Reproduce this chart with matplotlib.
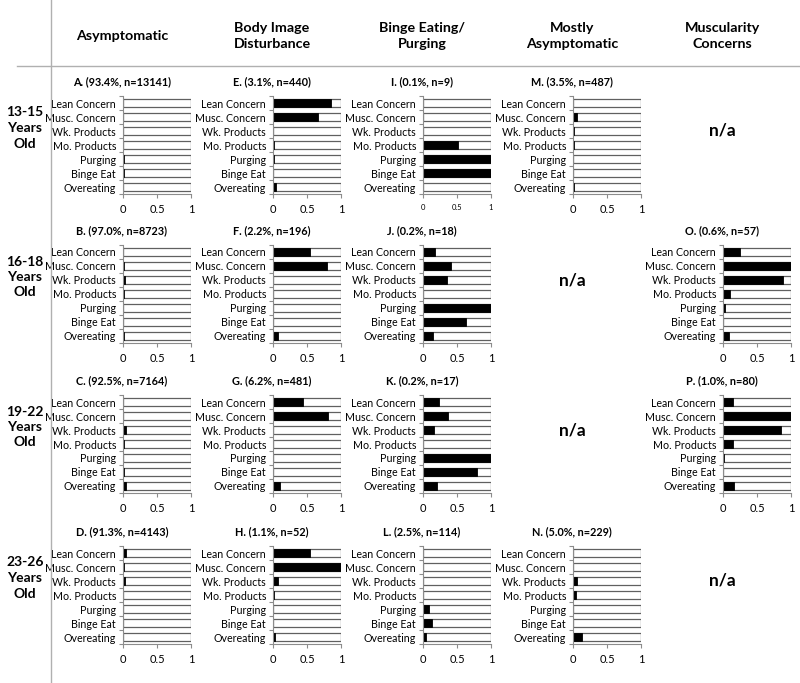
import matplotlib

matplotlib.use("Agg")
import matplotlib.pyplot as plt
from matplotlib.lines import Line2D

plt.rcParams["font.family"] = ["Lato", "DejaVu Sans"]

CATEGORIES = ["Lean Concern", "Musc. Concern", "Wk. Products", "Mo. Products",
              "Purging", "Binge Eat", "Overeating"]
COLUMN_HEADERS = ["Asymptomatic", "Body Image\nDisturbance", "Binge Eating/\nPurging",
                  "Mostly\nAsymptomatic", "Muscularity\nConcerns"]
ROW_LABELS = ["13-15\nYears\nOld", "16-18\nYears\nOld", "19-22\nYears\nOld", "23-26\nYears\nOld"]
X_TICKS = [0, 0.5, 1]

# proportions, in CATEGORIES order
A = [0.0, 0.0, 0.0, 0.0, 0.01, 0.01, 0.005]
B = [0.0, 0.02, 0.03, 0.015, 0.0, 0.005, 0.015]
C = [0.0, 0.0, 0.04, 0.01, 0.0, 0.01, 0.04]
D = [0.04, 0.01, 0.03, 0.0, 0.0, 0.0, 0.0]
E = [0.86, 0.66, 0.005, 0.01, 0.01, 0.0, 0.04]
F = [0.55, 0.79, 0.0, 0.0, 0.0, 0.0, 0.07]
G = [0.44, 0.81, 0.0, 0.0, 0.0, 0.0, 0.11]
H = [0.55, 1.0, 0.08, 0.01, 0.0, 0.0, 0.03]
I = [0.0, 0.0, 0.0, 0.51, 1.0, 1.0, 0.0]
J = [0.18, 0.41, 0.35, 0.0, 1.0, 0.63, 0.15]
K = [0.23, 0.37, 0.16, 0.0, 1.0, 0.80, 0.20]
L = [0.0, 0.0, 0.0, 0.0, 0.09, 0.13, 0.04]
M = [0.0, 0.06, 0.02, 0.01, 0.0, 0.0, 0.02]
N = [0.0, 0.0, 0.06, 0.05, 0.0, 0.0, 0.13]
O = [0.25, 1.0, 0.88, 0.11, 0.035, 0.0, 0.09]
P = [0.15, 1.0, 0.85, 0.15, 0.01, 0.0, 0.16]

PANEL_TITLES = {
    "A": "A. (93.4%, n=13141)", "B": "B. (97.0%, n=8723)", "C": "C. (92.5%, n=7164)",
    "D": "D. (91.3%, n=4143)", "E": "E. (3.1%, n=440)", "F": "F. (2.2%, n=196)",
    "G": "G. (6.2%, n=481)", "H": "H. (1.1%, n=52)", "I": "I. (0.1%, n=9)",
    "J": "J. (0.2%, n=18)", "K": "K. (0.2%, n=17)", "L": "L. (2.5%, n=114)",
    "M": "M. (3.5%, n=487)", "N": "N. (5.0%, n=229)", "O": "O. (0.6%, n=57)",
    "P": "P. (1.0%, n=80)",
}
PANEL_DATA = {"A": A, "B": B, "C": C, "D": D, "E": E, "F": F, "G": G, "H": H,
              "I": I, "J": J, "K": K, "L": L, "M": M, "N": N, "O": O, "P": P}
# rows = age groups, columns = classes; None -> n/a
GRID = [
    ["A", "E", "I", "M", None],
    ["B", "F", "J", None, "O"],
    ["C", "G", "K", None, "P"],
    ["D", "H", "L", "N", None],
]

W, H_PX = 800, 683
fig = plt.figure(figsize=(W / 100, H_PX / 100), dpi=100)


def fx(px):
    return px / W


def fy(py):
    return 1 - py / H_PX


LEAN_Y = [103, 252, 402, 553]
AX_W, AX_H = 68, 98
SPINE = "#8c8c8c"

fig.add_artist(Line2D([fx(50.5), fx(50.5)], [0, 1], color="#b0b0b0", lw=1))
fig.add_artist(Line2D([fx(17), 1], [fy(66), fy(66)], color="#b0b0b0", lw=1))

for c, head in enumerate(COLUMN_HEADERS):
    fig.text(fx(122 + 150 * c), fy(36), head, ha="center", va="center",
             fontsize=10.3, fontweight="bold", linespacing=1.5)

for r, row in enumerate(GRID):
    top = LEAN_Y[r] - 7
    center = top + AX_H / 2
    fig.text(fx(25), fy(center - 17), ROW_LABELS[r], ha="center", va="center",
             fontsize=10, fontweight="bold", linespacing=1.35)
    for c, key in enumerate(row):
        x0 = 123 + 150 * c
        if key is None:
            fig.text(fx(x0 - 1), fy(center - 14), "n/a", ha="center", va="center",
                     fontsize=12.5, fontweight="bold")
            continue
        vals = PANEL_DATA[key]
        ax = fig.add_axes([fx(x0), fy(top + AX_H), fx(AX_W), AX_H / H_PX])
        ypos = list(range(len(CATEGORIES)))
        ax.barh(ypos, [1] * len(vals), height=0.58, color="white",
                edgecolor="#606060", linewidth=0.9)
        ax.barh(ypos, vals, height=0.58, color="black", edgecolor="black", linewidth=0.6)
        ax.set_xlim(0, 1)
        ax.set_ylim(len(CATEGORIES) - 0.5, -0.5)
        ax.set_yticks([i - 0.5 for i in range(len(CATEGORIES) + 1)])
        ax.set_yticklabels([])
        ax.set_yticks(ypos, minor=True)
        ax.set_yticklabels(CATEGORIES, minor=True, fontsize=7.7)
        ax.tick_params(axis="y", which="minor", length=0, pad=5)
        ax.tick_params(axis="y", which="major", length=3, direction="out", color=SPINE, width=0.8)
        ax.set_xticks(X_TICKS)
        ax.set_xticklabels(["0", "0.5", "1"])
        ax.tick_params(axis="x", length=3, direction="out", color=SPINE, width=0.8,
                       labelsize=5.5 if key == "I" else 8, pad=4)
        for side in ["top", "right"]:
            ax.spines[side].set_visible(False)
        for side in ["left", "bottom"]:
            ax.spines[side].set_color(SPINE)
            ax.spines[side].set_linewidth(0.8)
        fig.text(fx(x0 - 1), fy(LEAN_Y[r] - 21), PANEL_TITLES[key], ha="center",
                 va="center", fontsize=7.8, fontweight="bold")

fig.savefig("out.png", dpi=100)
